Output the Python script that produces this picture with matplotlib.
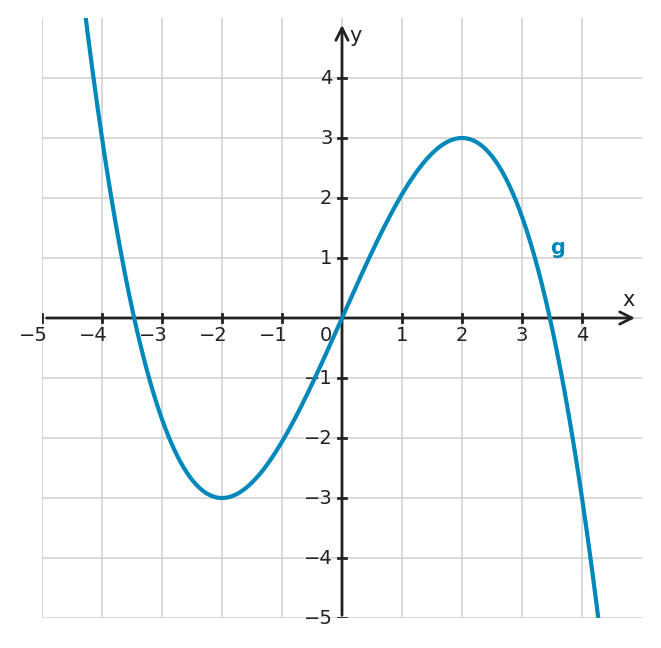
import numpy as np
import matplotlib.pyplot as plt

# g(x) = a*x^3 + b*x, read from extrema (-2,-3) and (2,3)
coef_cubic = -3 / 16
coef_linear = 9 / 4
x_ticks = [-5, -4, -3, -2, -1, 1, 2, 3, 4]
y_ticks = [-5, -4, -3, -2, -1, 1, 2, 3, 4]
curve_label = "g"

blue = "#0088bb"
axis_col = "#222222"

fig = plt.figure(figsize=(6.61, 6.48), dpi=100)
ax = fig.add_axes([42 / 661, 30 / 648, 600 / 661, 600 / 648])
ax.set_xlim(-5, 5)
ax.set_ylim(-5, 5)
ax.axis("off")

# grid
for v in range(-5, 5):
    ax.plot([v, v], [-5, 5], color="#d3d3d3", lw=1.2, zorder=0)
    ax.plot([-5, 5], [v, v], color="#d3d3d3", lw=1.2, zorder=0)

# axes with arrows
ax.annotate("", xy=(4.93, 0), xytext=(-4.97, 0),
            arrowprops=dict(arrowstyle="->", color=axis_col, lw=2, mutation_scale=22))
ax.annotate("", xy=(0, 4.93), xytext=(0, -5),
            arrowprops=dict(arrowstyle="->", color=axis_col, lw=2, mutation_scale=22))

tk = 0.07
fs = 14
for t in x_ticks:
    ax.plot([t, t], [-tk, tk], color=axis_col, lw=2)
    if t < 0:
        ax.text(t + 0.1, -0.14, f"\u2212{abs(t)}", ha="right", va="top", fontsize=fs, color=axis_col)
    else:
        ax.text(t, -0.14, str(t), ha="center", va="top", fontsize=fs, color=axis_col)
for t in y_ticks:
    ax.plot([-tk, tk], [t, t], color=axis_col, lw=2)
    lab = f"\u2212{abs(t)}" if t < 0 else str(t)
    ax.text(-0.16, t, lab, ha="right", va="center", fontsize=fs, color=axis_col)
ax.text(-0.16, -0.14, "0", ha="right", va="top", fontsize=fs, color=axis_col)
ax.text(4.77, 0.14, "x", ha="center", va="bottom", fontsize=15, color=axis_col)
ax.text(0.12, 4.7, "y", ha="left", va="center", fontsize=15, color=axis_col)

xs = np.linspace(-5, 5, 800)
ys = coef_cubic * xs ** 3 + coef_linear * xs
ax.plot(xs, ys, color=blue, lw=3, solid_capstyle="butt", clip_on=True, zorder=3)
ax.text(3.6, 1.17, curve_label, color=blue, fontsize=15, fontweight="bold", ha="center", va="center")

fig.savefig("out.png", dpi=100)
